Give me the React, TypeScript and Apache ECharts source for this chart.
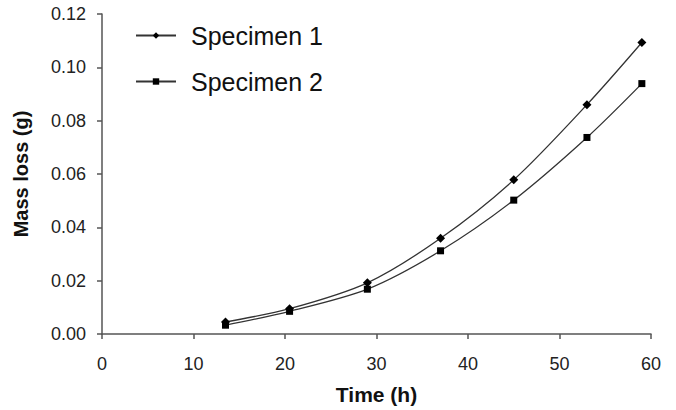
import React, { useEffect, useRef } from "react";
import * as echarts from "echarts";

const timeHours = [13.5, 20.5, 29, 37, 45, 53, 59];
const specimen1 = [0.0045, 0.0095, 0.0192, 0.0359, 0.0578, 0.086, 0.1093];
const specimen2 = [0.0033, 0.0085, 0.0168, 0.0312, 0.0502, 0.0737, 0.0939];
const seriesNames = ["Specimen 1", "Specimen 2"];

const FONT = "'Liberation Sans', Arial, Helvetica, sans-serif";

export default function App() {
  const ref = useRef<HTMLDivElement>(null);
  useEffect(() => {
    if (!ref.current) return;
    const chart = echarts.init(ref.current, null, { renderer: "svg" });
    const lineColor = "#333";
    const axisColor = "#555";
    chart.setOption({
      animation: false,
      backgroundColor: "#fff",
      textStyle: { fontFamily: FONT },
      grid: { left: 102, right: 25, top: 14, bottom: 76, containLabel: false },
      legend: {
        orient: "vertical",
        left: 130,
        top: 18,
        itemWidth: 40,
        itemHeight: 8,
        itemGap: 21,
        data: seriesNames,
        textStyle: { fontSize: 25, color: "#111", fontFamily: FONT, padding: [0, 0, 0, 10] },
      },
      xAxis: {
        type: "value",
        min: 0,
        max: 60,
        interval: 10,
        name: "Time (h)",
        nameLocation: "middle",
        nameGap: 50,
        nameTextStyle: { fontSize: 21, fontWeight: "bold", color: "#111", fontFamily: FONT },
        axisLine: { show: true, lineStyle: { color: axisColor, width: 1.5 } },
        axisTick: { show: true, inside: false, length: 5, lineStyle: { color: axisColor, width: 1.5 } },
        axisLabel: { fontSize: 18, color: "#222", margin: 21, fontFamily: FONT },
        splitLine: { show: false },
      },
      yAxis: {
        type: "value",
        min: 0,
        max: 0.12,
        interval: 0.02,
        name: "Mass loss (g)",
        nameLocation: "middle",
        nameGap: 71,
        nameTextStyle: { fontSize: 20, fontWeight: "bold", color: "#111", fontFamily: FONT },
        axisLine: { show: true, lineStyle: { color: axisColor, width: 1.5 } },
        axisTick: { show: true, inside: false, length: 5, lineStyle: { color: axisColor, width: 1.5 } },
        axisLabel: {
          fontSize: 18,
          color: "#222",
          margin: 16,
          fontFamily: FONT,
          formatter: (v: number) => v.toFixed(2),
        },
        splitLine: { show: false },
      },
      series: [
        {
          name: seriesNames[0],
          type: "line",
          smooth: 0.3,
          data: timeHours.map((t, i) => [t, specimen1[i]]),
          symbol: "diamond",
          symbolSize: 9,
          showAllSymbol: true,
          lineStyle: { color: lineColor, width: 1.3 },
          itemStyle: { color: "#000", borderWidth: 0 },
        },
        {
          name: seriesNames[1],
          type: "line",
          smooth: 0.3,
          data: timeHours.map((t, i) => [t, specimen2[i]]),
          symbol: "rect",
          symbolSize: 7,
          showAllSymbol: true,
          lineStyle: { color: lineColor, width: 1.3 },
          itemStyle: { color: "#000", borderWidth: 0 },
        },
      ],
    });
    return () => chart.dispose();
  }, []);
  return (
    <div
      ref={ref}
      style={{ position: "fixed", left: 0, top: 0, width: 676, height: 410, background: "#fff" }}
    />
  );
}
